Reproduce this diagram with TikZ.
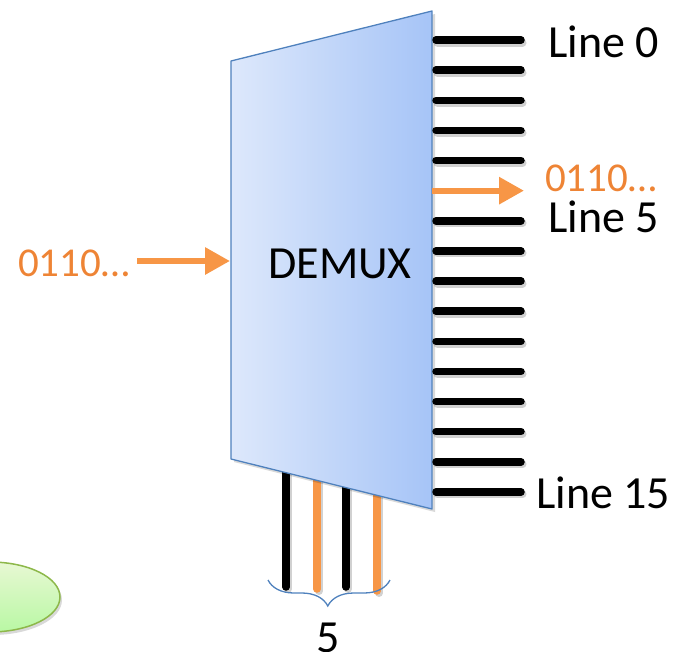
\documentclass[tikz,border=0pt]{standalone}
\usepackage{fontspec}
\setmainfont{Carlito}
\usetikzlibrary{arrows.meta,decorations.pathreplacing,shadows,shapes.geometric}
\definecolor{myorange}{HTML}{F79646}
\definecolor{txtorange}{HTML}{EE8435}
\definecolor{myblue}{HTML}{4F81BD}
\definecolor{boxleft}{HTML}{DDE8FB}
\definecolor{boxright}{HTML}{A6C4F7}
\definecolor{greenfill}{HTML}{DDF5C0}
\definecolor{greenline}{HTML}{8DB84A}
\tikzset{
  orangeline/.style={line width=7.5pt, line cap=round, myorange},
  oarrow/.style={line width=6pt, myorange, -{Triangle[length=25pt,width=26pt]}},
  lbl/.style={font=\fontsize{46}{50}\selectfont, inner sep=0pt, anchor=base west},
  olbl/.style={font=\fontsize{41}{45}\selectfont, inner sep=0pt, text=txtorange},
  blackline/.style={line width=7.5pt, line cap=round, black},
  shadowline/.style={line width=8pt, line cap=round, black, opacity=0.18},
}
\begin{document}
\begin{tikzpicture}[x=1pt,y=-1pt]
\useasboundingbox (0,0) rectangle (685,651);
% green ellipse
\fill[black, opacity=0.15] (-8,600) ellipse [x radius=70pt, y radius=35pt];
\node[ellipse, draw=greenline, line width=1.5pt, top color=greenfill!70!white, bottom color=greenfill!80!green!90,
      minimum width=140pt, minimum height=70pt, inner sep=0pt] (ell) at (-10,597) {};
% bottom select lines
\coordinate (s1t) at (286,472); \coordinate (s1b) at (286,587);
\coordinate (s2t) at (317,480); \coordinate (s2b) at (317,589);
\coordinate (s3t) at (346,487); \coordinate (s3b) at (346,587);
\coordinate (s4t) at (377,495); \coordinate (s4b) at (377,591);
\foreach \a/\b in {s1t/s1b,s2t/s2b,s3t/s3b,s4t/s4b}{
  \draw[shadowline, transform canvas={shift={(2pt,-2pt)}}] (\a) -- (\b);
}
\draw[blackline] (s1t) -- (s1b);
\draw[orangeline] (s2t) -- (s2b);
\draw[blackline] (s3t) -- (s3b);
\draw[orangeline] (s4t) -- (s4b);
% trapezoid
\coordinate (tl) at (231,61);
\coordinate (tr) at (432,11);
\coordinate (br) at (432,509);
\coordinate (bl) at (231,459);
\fill[black, opacity=0.15, transform canvas={shift={(3pt,-3pt)}}] (tl) -- (tr) -- (br) -- (bl) -- cycle;
\shade[left color=boxleft, right color=boxright] (tl) -- (tr) -- (br) -- (bl) -- cycle;
\draw[myblue, line width=1.3pt, line join=round] (tl) -- (tr) -- (br) -- (bl) -- cycle;
\node[font=\fontsize{46}{50}\selectfont, inner sep=0pt, anchor=base] (demux) at (340,278) {DEMUX};
% output lines
\foreach \i in {0,...,15}{
  \coordinate (o\i) at (436,{40+30.13*\i});
  \coordinate (e\i) at (521,{40+30.13*\i});
}
\foreach \i in {0,1,2,3,4,6,7,8,9,10,11,12,13,14,15}{
  \draw[shadowline, transform canvas={shift={(1.5pt,-2.5pt)}}] (o\i) -- (e\i);
  \draw[blackline] (o\i) -- (e\i);
}
\coordinate (a5s) at (432,{40+30.13*5});
\coordinate (a5e) at (524,{40+30.13*5});
\draw[oarrow] (a5s) -- (a5e);
% labels
\node[lbl] (l0) at (548,57) {Line 0};
\node[olbl, anchor=base west] (o5) at (545,191) {0110…};
\node[lbl] (l5) at (548,232) {Line 5};
\node[lbl] (l15) at (536,508) {Line 15};
% input
\node[olbl, anchor=base west] (in) at (18,276) {0110…};
\coordinate (inend) at (230,261);
\coordinate (instart) at (137,261);
\draw[oarrow] (instart) -- (inend);
% brace
\coordinate (b1) at (268,580);
\coordinate (b2) at (390,580);
\draw[myblue, line width=1.3pt, decorate, decoration={brace, amplitude=26pt, mirror, aspect=0.49}] (b1) -- (b2);
\node[font=\fontsize{46}{50}\selectfont, inner sep=0pt, anchor=base] (five) at (328,652) {5};
\end{tikzpicture}
\end{document}
